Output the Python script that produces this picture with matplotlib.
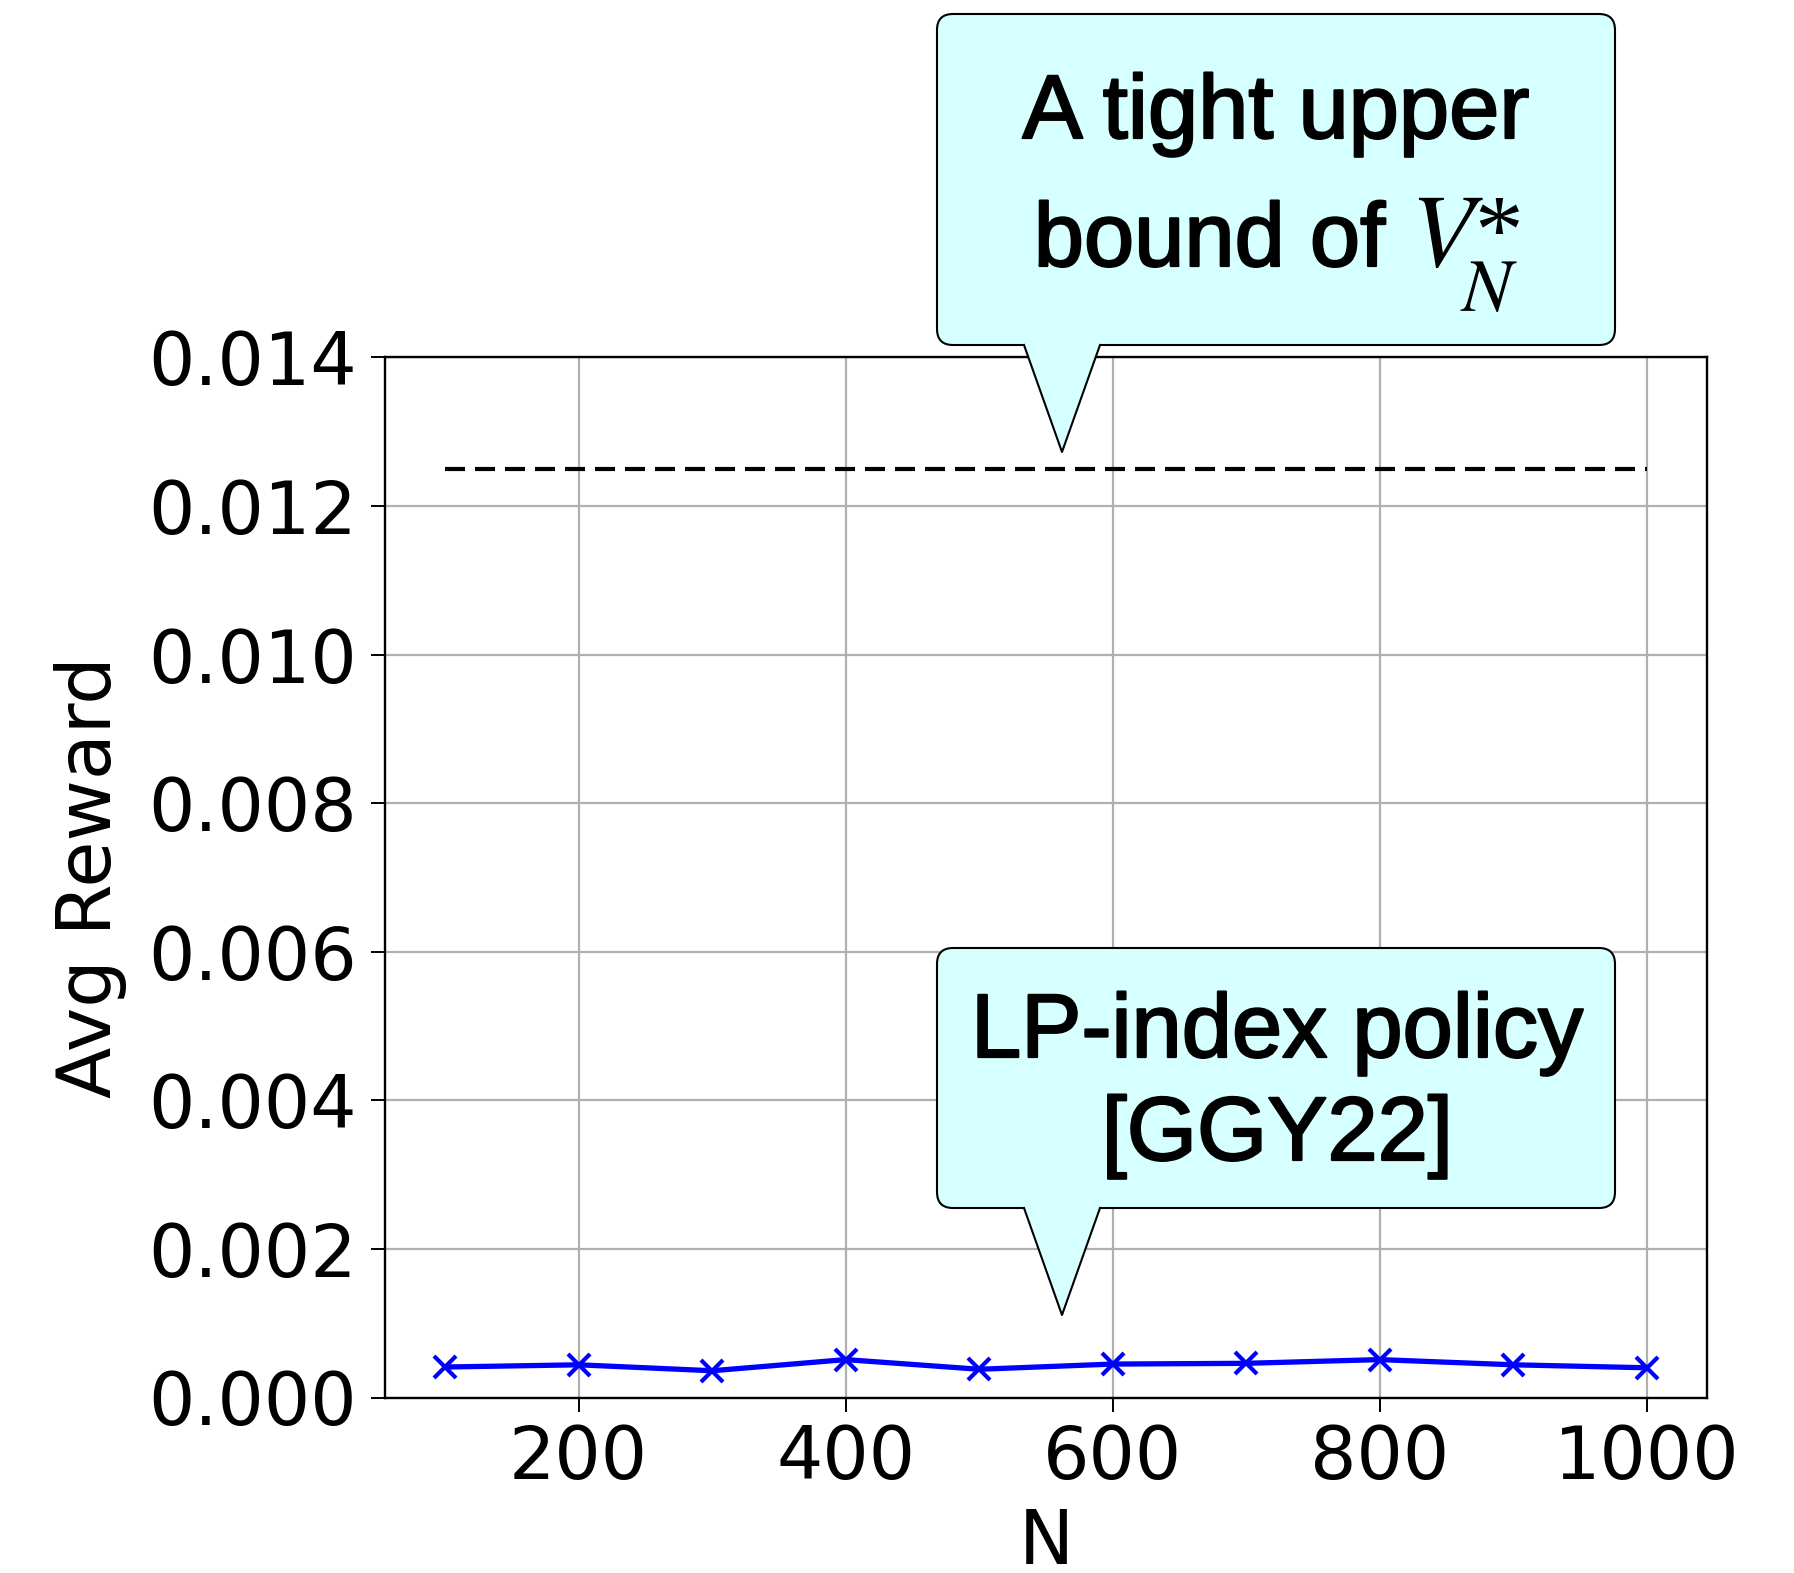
import matplotlib
matplotlib.use("Agg")
import matplotlib.pyplot as plt
import matplotlib.patheffects as pe
from matplotlib.patches import FancyBboxPatch, Polygon
from matplotlib.lines import Line2D
from matplotlib.transforms import Affine2D

# ---- data ----
n_values = [100, 200, 300, 400, 500, 600, 700, 800, 900, 1000]
lp_index_reward = [0.00041, 0.00044, 0.00036, 0.00051, 0.00038,
                   0.00045, 0.00046, 0.00051, 0.00044, 0.00040]
upper_bound = [0.0125] * len(n_values)
x_ticks = [200, 400, 600, 800, 1000]
y_ticks = [0.000, 0.002, 0.004, 0.006, 0.008, 0.010, 0.012, 0.014]

W, H = 1794, 1573
plt.rcParams["mathtext.fontset"] = "stix"

fig = plt.figure(figsize=(W / 100, H / 100), dpi=100)
ax = fig.add_axes([385 / W, 1 - 1397.5 / H, 1322 / W, 1040.2 / H])

ax.plot(n_values, upper_bound, color="black", linewidth=3.0,
        linestyle=(0, (4.8, 2.4)), zorder=3)
ax.plot(n_values, lp_index_reward, color="blue", linewidth=3.8,
        marker="x", markersize=16, markeredgewidth=3, zorder=3)

ax.set_xlim(55, 1045)
ax.set_ylim(0, 0.014)
ax.set_xticks(x_ticks)
ax.set_yticks(y_ticks)
ax.set_yticklabels([f"{v:.3f}" for v in y_ticks])
ax.grid(True, color="#b0b0b0", linewidth=1.6, zorder=0)
ax.set_axisbelow(True)

for sp in ax.spines.values():
    sp.set_linewidth(1.7)
ax.tick_params(axis="both", labelsize=52.5, length=10, width=1.4, direction="out")
ax.tick_params(axis="y", pad=10)
ax.tick_params(axis="x", pad=8)

ax.set_xlabel("N", fontsize=53)
ax.set_ylabel("Avg Reward", fontsize=54)
ax.xaxis.set_label_coords(0.5, -0.105)
ax.yaxis.set_label_coords(-0.1955, 0.5)

# ---- speech-bubble callouts, placed in pixel units measured from the top ----
px = Affine2D().scale(1 / W, 1 / H) + fig.transFigure
face = "#d6ffff"
heavy = [pe.withStroke(linewidth=1.6, foreground="black")]


def callout(left, top, right, bottom, base_l, base_r, tip_x, tip_y):
    box = FancyBboxPatch((left, H - bottom), right - left, bottom - top,
                         boxstyle="round,pad=0,rounding_size=16",
                         facecolor=face, edgecolor="black", linewidth=1.5,
                         transform=px, zorder=5)
    fig.patches.append(box)
    tri = Polygon([(base_l, H - bottom + 4), (base_l, H - bottom),
                   (tip_x, H - tip_y), (base_r, H - bottom),
                   (base_r, H - bottom + 4)],
                  closed=True, facecolor=face, edgecolor="none",
                  transform=px, zorder=6)
    fig.patches.append(tri)
    edge = Line2D([base_l, tip_x, base_r],
                  [H - bottom, H - tip_y, H - bottom],
                  color="black", linewidth=1.5, transform=px, zorder=7)
    fig.lines.append(edge)


def bubble_text(x, baseline, s, ha="center"):
    fig.text(x / W, 1 - baseline / H, s, ha=ha, va="baseline",
             fontsize=65, family="Liberation Sans", zorder=8,
             path_effects=heavy)


def put(x, baseline, s, size, **kw):
    fig.text(x / W, 1 - baseline / H, s, ha="left", va="baseline",
             fontsize=size, zorder=8, **kw)


callout(937, 14, 1615, 345, 1024, 1100, 1062, 452)
bubble_text(1276, 138, "A tight upper")
bubble_text(1385, 266, "bound of", ha="right")
# V*_N typeset piece by piece: italic V, subscript N, serif asterisk
put(1410, 266, r"$V$", 75)
put(1460, 311, r"$N$", 54)
put(1474, 262, "*", 70, family="Liberation Serif")

callout(937, 948, 1615, 1208, 1024, 1100, 1062, 1315)
bubble_text(1277, 1057, "LP-index policy")
bubble_text(1277, 1160, "[GGY22]")

fig.savefig("out.png", dpi=100)
